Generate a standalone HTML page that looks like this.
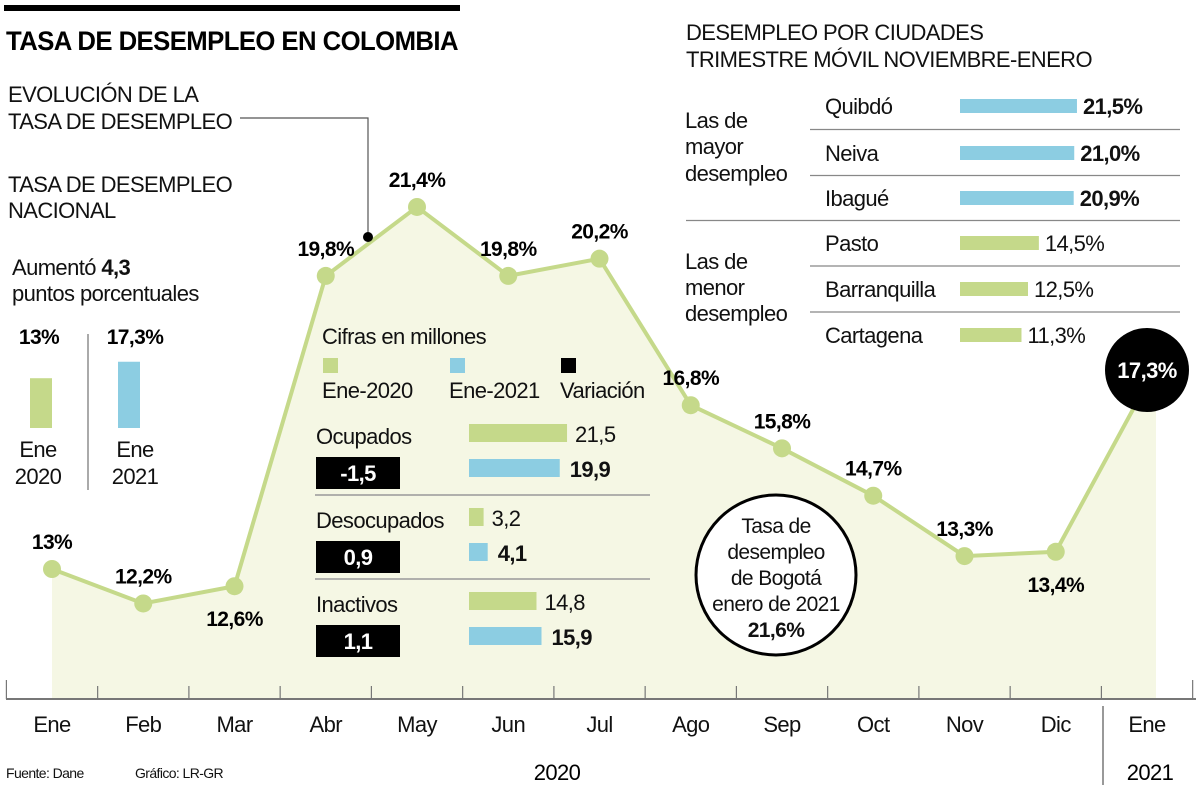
<!DOCTYPE html>
<html><head><meta charset="utf-8"><style>
body{margin:0;background:#fff}
svg{display:block;font-family:"Liberation Sans",sans-serif;letter-spacing:-0.6px}
</style></head><body>
<svg id="c" width="1200" height="785" viewBox="0 0 1200 785">
<rect x="4" y="5" width="456" height="6" fill="#000"/>
<text x="6" y="50" font-size="27" font-weight="bold" textLength="452" lengthAdjust="spacingAndGlyphs">TASA DE DESEMPLEO EN COLOMBIA</text>
<g id="plot"></g>
<g font-size="22" fill="#111">
<text x="8" y="102">EVOLUCIÓN DE LA</text>
<text x="8" y="129">TASA DE DESEMPLEO</text>
<text x="8" y="192">TASA DE DESEMPLEO</text>
<text x="8" y="218">NACIONAL</text>
<text x="12" y="275">Aumentó <tspan font-weight="bold">4,3</tspan></text>
<text x="12" y="301">puntos porcentuales</text>
</g>
<polyline points="240,118 368,118 368,237" fill="none" stroke="#555" stroke-width="1.2"/>
<circle cx="368" cy="237" r="5" fill="#000"/>
<g id="cmp"></g>
<g id="mid"></g>
<g id="cities"></g>
<g>
<circle cx="776" cy="575" r="80" fill="#fff" stroke="#000" stroke-width="3"/>
<g font-size="21" text-anchor="middle" fill="#111"><text x="776" y="533">Tasa de</text><text x="776" y="559">desempleo</text><text x="776" y="585">de Bogotá</text><text x="776" y="611">enero de 2021</text><text x="776" y="637" font-weight="bold">21,6%</text></g>
</g>
<g font-size="14" fill="#111"><text x="6" y="778">Fuente: Dane</text><text x="135" y="778">Gráfico: LR-GR</text></g>
<script>
const months=["Ene","Feb","Mar","Abr","May","Jun","Jul","Ago","Sep","Oct","Nov","Dic","Ene"];
const rates=[13,12.2,12.6,19.8,21.4,19.8,20.2,16.8,15.8,14.7,13.3,13.4,17.3];
const rateLabels=["13%","12,2%","12,6%","19,8%","21,4%","19,8%","20,2%","16,8%","15,8%","14,7%","13,3%","13,4%","17,3%"];
const labelPos=["a","a","b","a","a","a","a","a","a","a","a","b","a"];
const cityNames=["Quibdó","Neiva","Ibagué","Pasto","Barranquilla","Cartagena"];
const cityValues=[21.5,21.0,20.9,14.5,12.5,11.3];
const cityLabels=["21,5%","21,0%","20,9%","14,5%","12,5%","11,3%"];
const groups=["Ocupados","Desocupados","Inactivos"];
const v2020=[21.5,3.2,14.8];
const v2021=[19.9,4.1,15.9];
const l2020=["21,5","3,2","14,8"];
const l2021=["19,9","4,1","15,9"];
const variation=["-1,5","0,9","1,1"];
const natValues=[13,17.3];
const natLabels=["13%","17,3%"];
const NS="http://www.w3.org/2000/svg";
function mk(p,t,a,txt){const e=document.createElementNS(NS,t);for(const k in a)e.setAttribute(k,a[k]);if(txt!=null)e.textContent=txt;p.appendChild(e);return e;}
const GREEN="#c5d98a",BLUE="#8ccde2",FILL="#f5f7e4";
const x=i=>52+i*91.25;
const y=v=>569-(v-13)*43.1;
const base=699;
const plot=document.getElementById('plot');
let d="M"+x(0)+","+base;rates.forEach((v,i)=>d+=" L"+x(i)+","+y(v));d+=" L"+(x(12)+9)+","+y(rates[12])+" L"+(x(12)+9)+","+base+" Z";
const area=mk(plot,'path',{d:d,fill:FILL});


const ln=mk(plot,'polyline',{points:rates.map((v,i)=>x(i)+","+y(v)).join(" "),fill:"none",stroke:GREEN,"stroke-width":4});


rates.forEach((v,i)=>{
 const c=mk(plot,'circle',{cx:x(i),cy:y(v),r:9,fill:GREEN});
 
 
 if(i<12){
 const ty=labelPos[i]=="a"?y(v)-20:y(v)+40;
 const t=mk(plot,'text',{x:x(i),y:ty,"font-size":21,"font-weight":"bold","text-anchor":"middle"},rateLabels[i]);
 
 }
 const m=mk(plot,'text',{x:x(i),y:732,"font-size":22,"text-anchor":"middle",fill:"#111"},months[i]);
 
 
});
const bc=mk(plot,'circle',{cx:x(12),cy:370,r:42,fill:"#000"});


const bt=mk(plot,'text',{x:x(12),y:378,"font-size":22,"font-weight":"bold",fill:"#fff","text-anchor":"middle"},rateLabels[12]);


const ax=mk(plot,'line',{x1:6,x2:1196,y1:base,y2:base,stroke:"#777","stroke-width":2});


for(let i=0;i<=13;i++){const tx=x(i)-45.6;const tk=mk(plot,'line',{x1:tx,x2:tx,y1:(i==0||i==13)?680:686,y2:base,stroke:"#777","stroke-width":1.2});
 
 }
const dv=mk(plot,'line',{x1:1103,x2:1103,y1:706,y2:785,stroke:"#555","stroke-width":1.2});


const y1=mk(plot,'text',{x:557,y:780,"font-size":22,"text-anchor":"middle"},"2020");


const y2=mk(plot,'text',{x:1150,y:780,"font-size":22,"text-anchor":"middle"},"2021");



const cmp=document.getElementById('cmp');
const nx=[41,129],ncol=[GREEN,BLUE],nb=428,ns=3.83;
natValues.forEach((v,i)=>{
 const r=mk(cmp,'rect',{x:nx[i]-11,y:nb-v*ns,width:22,height:v*ns,fill:ncol[i]});
 
 
 const t=mk(cmp,'text',{x:nx[i]-(i==0?2:-6),y:344,"font-size":21,"font-weight":"bold","text-anchor":"middle"},natLabels[i]);
 
 
 const a=mk(cmp,'text',{x:nx[i]-(i==0?3:-6),y:457,"font-size":22,"text-anchor":"middle",fill:"#111"},"Ene");
 
 
 const b=mk(cmp,'text',{x:nx[i]-(i==0?3:-6),y:484,"font-size":22,"text-anchor":"middle",fill:"#111"},i==0?"2020":"2021");
 
 
});
const cd=mk(cmp,'line',{x1:88,x2:88,y1:334,y2:490,stroke:"#555","stroke-width":1});



const mid=document.getElementById('mid');
const mt=mk(mid,'text',{x:322,y:344,"font-size":22,fill:"#111"},"Cifras en millones");


[[322,GREEN,"Ene-2020"],[449,BLUE,"Ene-2021"],[560,"#000","Variación"]].forEach(l=>{
 const s=mk(mid,'rect',{x:l[0]+1,y:358,width:15,height:15,fill:l[1]});
 
 
 const t=mk(mid,'text',{x:l[0],y:398,"font-size":22,fill:"#111"},l[2]);
 
 
});
const bx=469,bs=4.56;
groups.forEach((g,i)=>{
 const oy=i*84;
 const t=mk(mid,'text',{x:316,y:444+oy,"font-size":22,fill:"#111"},g);
 
 
 const vb=mk(mid,'rect',{x:316,y:457+oy,width:84,height:32,fill:"#000"});
 
 
 const vt=mk(mid,'text',{x:358,y:481+oy,"font-size":22,"font-weight":"bold",fill:"#fff","text-anchor":"middle"},variation[i]);
 
 
 const g1=mk(mid,'rect',{x:bx,y:424+oy,width:v2020[i]*bs,height:18,fill:GREEN});
 
 
 const g1t=mk(mid,'text',{x:bx+v2020[i]*bs+8,y:442+oy,"font-size":22,fill:"#111"},l2020[i]);
 
 
 const g2=mk(mid,'rect',{x:bx,y:459+oy,width:v2021[i]*bs,height:18,fill:BLUE});
 
 
 const g2t=mk(mid,'text',{x:bx+v2021[i]*bs+10,y:477+oy,"font-size":22,"font-weight":"bold",fill:"#111"},l2021[i]);
 
 
 if(i<2){const sl=mk(mid,'line',{x1:315,x2:650,y1:495+oy,y2:495+oy,stroke:"#999","stroke-width":1.5});
 
 }
});

const ci=document.getElementById('cities');
[["DESEMPLEO POR CIUDADES",40],["TRIMESTRE MÓVIL NOVIEMBRE-ENERO",67]].forEach(h=>{
 const t=mk(ci,'text',{x:686,y:h[1],"font-size":22,fill:"#111"},h[0]);
 
 
});
[["Las de",128],["mayor",154],["desempleo",181],["Las de",269],["menor",295],["desempleo",321]].forEach(h=>{
 const t=mk(ci,'text',{x:685,y:h[1],"font-size":22,fill:"#111"},h[0]);
 
 
});
const cs=5.44,rowY=[106,153,198,243,289,335];
cityNames.forEach((n,i)=>{
 const cy=rowY[i];const hi=i<3;
 const t=mk(ci,'text',{x:825,y:cy+8,"font-size":22,fill:"#111"},n);
 
 
 const r=mk(ci,'rect',{x:960,y:cy-7,width:cityValues[i]*cs,height:14,fill:hi?BLUE:GREEN});
 
 
 const v=mk(ci,'text',{x:960+cityValues[i]*cs+6,y:cy+8,"font-size":22,"font-weight":hi?"bold":"normal",fill:"#111"},cityLabels[i]);
 
 
 if(i<5){const x1=i==2?686:810;const sy=(rowY[i]+rowY[i+1])/2;
 const s=mk(ci,'line',{x1:x1,x2:1180,y1:sy,y2:sy,stroke:"#888","stroke-width":1.2});
 
 }
});
</script>
</svg>
</body></html>
